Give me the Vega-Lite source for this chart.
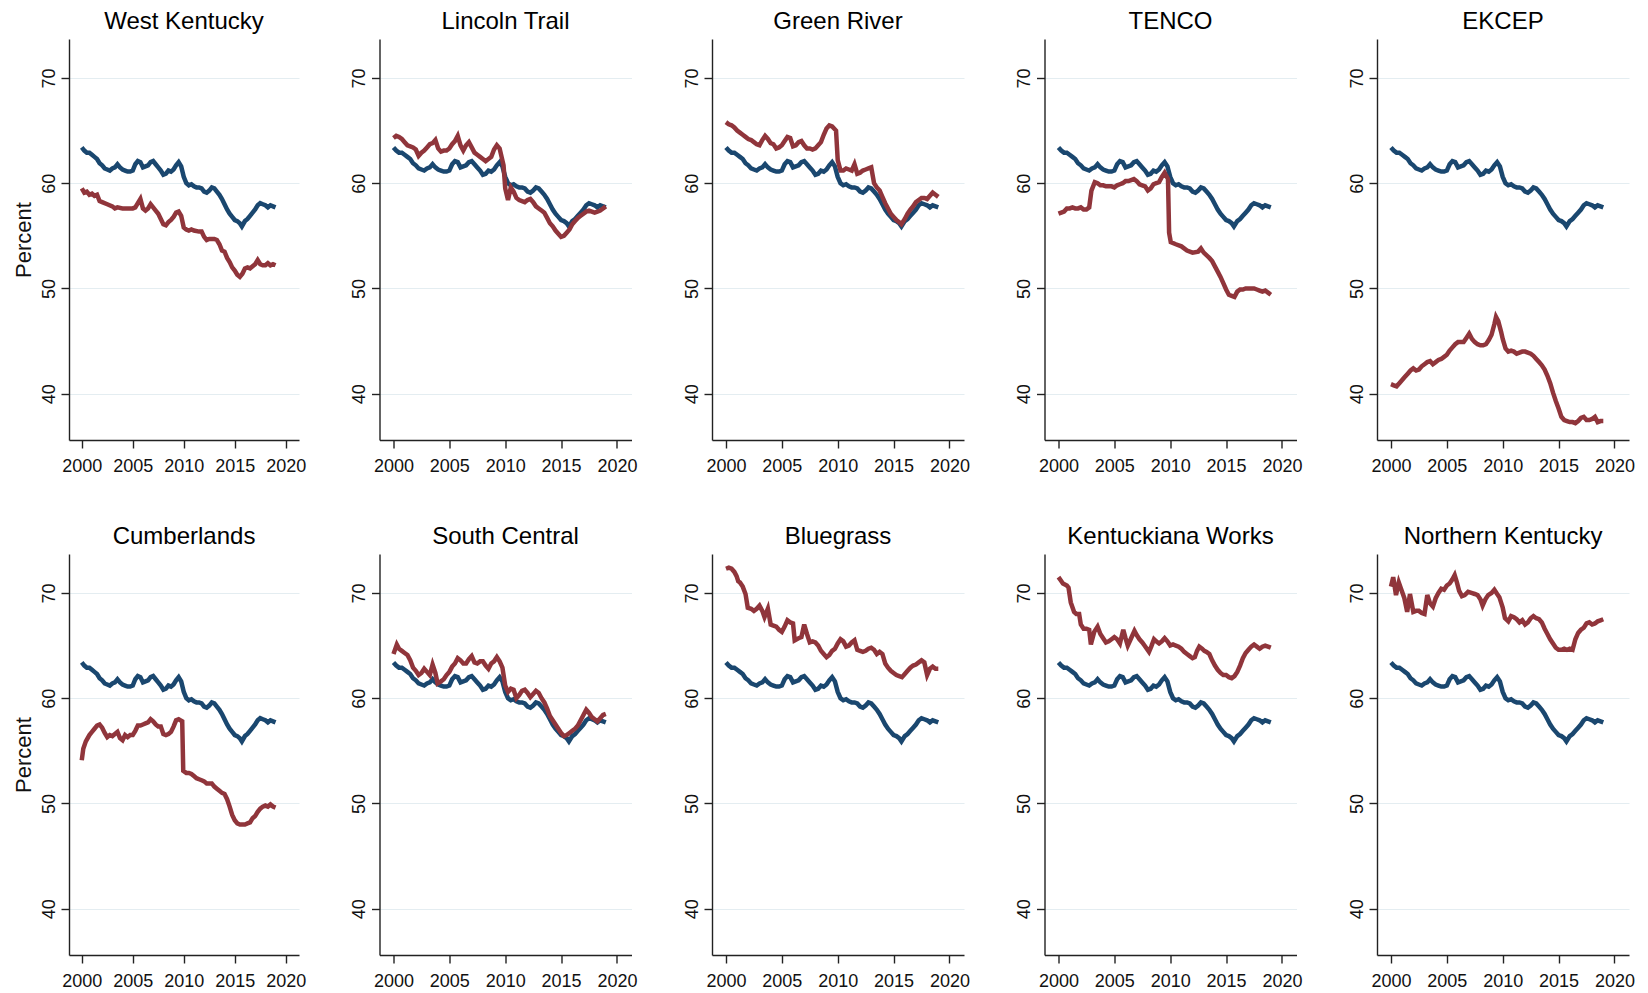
{
  "$schema": "https://vega.github.io/schema/vega-lite/v6.json",
  "padding": {"left": 12, "top": 10, "right": 5, "bottom": 0},
  "background": "#ffffff",
  "datasets": {
    "state": [
      {"year":2000.0,"value":63.4},{"year":2000.25,"value":63.1},{"year":2000.5,"value":62.9},{"year":2000.75,"value":62.9},
      {"year":2001.0,"value":62.7},{"year":2001.25,"value":62.5},{"year":2001.5,"value":62.3},{"year":2001.75,"value":61.9},
      {"year":2002.0,"value":61.7},{"year":2002.25,"value":61.4},{"year":2002.5,"value":61.3},{"year":2002.75,"value":61.2},
      {"year":2003.0,"value":61.4},{"year":2003.25,"value":61.5},{"year":2003.5,"value":61.8},{"year":2003.75,"value":61.5},
      {"year":2004.0,"value":61.3},{"year":2004.25,"value":61.2},{"year":2004.5,"value":61.1},{"year":2004.75,"value":61.1},
      {"year":2005.0,"value":61.2},{"year":2005.25,"value":61.8},{"year":2005.5,"value":62.1},{"year":2005.75,"value":62.0},
      {"year":2006.0,"value":61.5},{"year":2006.25,"value":61.6},{"year":2006.5,"value":61.7},{"year":2006.75,"value":62.0},
      {"year":2007.0,"value":62.1},{"year":2007.25,"value":61.8},{"year":2007.5,"value":61.5},{"year":2007.75,"value":61.2},
      {"year":2008.0,"value":60.8},{"year":2008.25,"value":60.9},{"year":2008.5,"value":61.2},{"year":2008.75,"value":61.1},
      {"year":2009.0,"value":61.3},{"year":2009.25,"value":61.7},{"year":2009.5,"value":62.0},{"year":2009.75,"value":61.6},
      {"year":2010.0,"value":60.6},{"year":2010.25,"value":60.0},{"year":2010.5,"value":59.8},{"year":2010.75,"value":59.9},
      {"year":2011.0,"value":59.7},{"year":2011.25,"value":59.6},{"year":2011.5,"value":59.6},{"year":2011.75,"value":59.5},
      {"year":2012.0,"value":59.2},{"year":2012.25,"value":59.1},{"year":2012.5,"value":59.3},{"year":2012.75,"value":59.6},
      {"year":2013.0,"value":59.5},{"year":2013.25,"value":59.2},{"year":2013.5,"value":58.9},{"year":2013.75,"value":58.5},
      {"year":2014.0,"value":58.0},{"year":2014.25,"value":57.5},{"year":2014.5,"value":57.1},{"year":2014.75,"value":56.8},
      {"year":2015.0,"value":56.5},{"year":2015.25,"value":56.4},{"year":2015.5,"value":56.2},{"year":2015.7,"value":55.9},
      {"year":2016.0,"value":56.4},{"year":2016.25,"value":56.6},{"year":2016.5,"value":56.9},{"year":2016.75,"value":57.2},
      {"year":2017.0,"value":57.5},{"year":2017.25,"value":57.9},{"year":2017.5,"value":58.1},{"year":2017.75,"value":58.0},
      {"year":2018.0,"value":57.9},{"year":2018.25,"value":57.7},{"year":2018.5,"value":57.9},{"year":2018.75,"value":57.8},
      {"year":2019.0,"value":57.7}
    ],
    "regions": [
      {"region":"West Kentucky","year":2000.0,"value":59.5},{"region":"West Kentucky","year":2000.25,"value":59.1},{"region":"West Kentucky","year":2000.5,"value":59.2},{"region":"West Kentucky","year":2000.75,"value":58.9},
      {"region":"West Kentucky","year":2001.0,"value":59.0},{"region":"West Kentucky","year":2001.25,"value":58.8},{"region":"West Kentucky","year":2001.5,"value":58.9},{"region":"West Kentucky","year":2001.75,"value":58.3},
      {"region":"West Kentucky","year":2002.0,"value":58.2},{"region":"West Kentucky","year":2002.5,"value":58.0},{"region":"West Kentucky","year":2003.0,"value":57.8},{"region":"West Kentucky","year":2003.25,"value":57.6},
      {"region":"West Kentucky","year":2003.5,"value":57.7},{"region":"West Kentucky","year":2004.0,"value":57.6},{"region":"West Kentucky","year":2004.5,"value":57.6},{"region":"West Kentucky","year":2005.0,"value":57.6},
      {"region":"West Kentucky","year":2005.25,"value":57.7},{"region":"West Kentucky","year":2005.5,"value":58.1},{"region":"West Kentucky","year":2005.75,"value":58.5},{"region":"West Kentucky","year":2006.0,"value":57.6},
      {"region":"West Kentucky","year":2006.25,"value":57.4},{"region":"West Kentucky","year":2006.5,"value":57.6},{"region":"West Kentucky","year":2006.75,"value":58.0},{"region":"West Kentucky","year":2007.0,"value":57.7},
      {"region":"West Kentucky","year":2007.25,"value":57.4},{"region":"West Kentucky","year":2007.5,"value":57.1},{"region":"West Kentucky","year":2007.75,"value":56.6},{"region":"West Kentucky","year":2008.0,"value":56.1},
      {"region":"West Kentucky","year":2008.25,"value":56.0},{"region":"West Kentucky","year":2008.5,"value":56.3},{"region":"West Kentucky","year":2008.75,"value":56.5},{"region":"West Kentucky","year":2009.0,"value":56.8},
      {"region":"West Kentucky","year":2009.25,"value":57.2},{"region":"West Kentucky","year":2009.5,"value":57.3},{"region":"West Kentucky","year":2009.75,"value":56.9},{"region":"West Kentucky","year":2010.0,"value":55.8},
      {"region":"West Kentucky","year":2010.25,"value":55.6},{"region":"West Kentucky","year":2010.5,"value":55.5},{"region":"West Kentucky","year":2010.75,"value":55.6},{"region":"West Kentucky","year":2011.0,"value":55.5},
      {"region":"West Kentucky","year":2011.5,"value":55.4},{"region":"West Kentucky","year":2011.75,"value":55.4},{"region":"West Kentucky","year":2012.0,"value":54.9},{"region":"West Kentucky","year":2012.25,"value":54.6},
      {"region":"West Kentucky","year":2012.5,"value":54.7},{"region":"West Kentucky","year":2012.75,"value":54.7},{"region":"West Kentucky","year":2013.0,"value":54.7},{"region":"West Kentucky","year":2013.25,"value":54.6},
      {"region":"West Kentucky","year":2013.5,"value":54.2},{"region":"West Kentucky","year":2013.75,"value":53.6},{"region":"West Kentucky","year":2014.0,"value":53.5},{"region":"West Kentucky","year":2014.25,"value":52.9},
      {"region":"West Kentucky","year":2014.5,"value":52.5},{"region":"West Kentucky","year":2014.75,"value":52.0},{"region":"West Kentucky","year":2015.0,"value":51.7},{"region":"West Kentucky","year":2015.25,"value":51.3},
      {"region":"West Kentucky","year":2015.5,"value":51.1},{"region":"West Kentucky","year":2015.75,"value":51.4},{"region":"West Kentucky","year":2016.0,"value":51.9},{"region":"West Kentucky","year":2016.25,"value":52.0},
      {"region":"West Kentucky","year":2016.5,"value":51.9},{"region":"West Kentucky","year":2016.75,"value":52.1},{"region":"West Kentucky","year":2017.0,"value":52.3},{"region":"West Kentucky","year":2017.25,"value":52.7},
      {"region":"West Kentucky","year":2017.5,"value":52.3},{"region":"West Kentucky","year":2017.75,"value":52.2},{"region":"West Kentucky","year":2018.0,"value":52.2},{"region":"West Kentucky","year":2018.25,"value":52.4},
      {"region":"West Kentucky","year":2018.5,"value":52.2},{"region":"West Kentucky","year":2018.75,"value":52.3},{"region":"West Kentucky","year":2019.0,"value":52.2},

      {"region":"Lincoln Trail","year":2000.0,"value":64.3},{"region":"Lincoln Trail","year":2000.25,"value":64.5},{"region":"Lincoln Trail","year":2000.5,"value":64.4},{"region":"Lincoln Trail","year":2000.75,"value":64.2},
      {"region":"Lincoln Trail","year":2001.0,"value":63.9},{"region":"Lincoln Trail","year":2001.25,"value":63.6},{"region":"Lincoln Trail","year":2001.5,"value":63.5},{"region":"Lincoln Trail","year":2001.75,"value":63.4},
      {"region":"Lincoln Trail","year":2002.0,"value":63.2},{"region":"Lincoln Trail","year":2002.25,"value":62.6},{"region":"Lincoln Trail","year":2002.5,"value":62.9},{"region":"Lincoln Trail","year":2002.75,"value":63.1},
      {"region":"Lincoln Trail","year":2003.0,"value":63.4},{"region":"Lincoln Trail","year":2003.25,"value":63.7},{"region":"Lincoln Trail","year":2003.5,"value":63.8},{"region":"Lincoln Trail","year":2003.75,"value":64.1},
      {"region":"Lincoln Trail","year":2004.0,"value":63.3},{"region":"Lincoln Trail","year":2004.25,"value":63.0},{"region":"Lincoln Trail","year":2004.5,"value":63.1},{"region":"Lincoln Trail","year":2004.75,"value":63.1},
      {"region":"Lincoln Trail","year":2005.0,"value":63.3},{"region":"Lincoln Trail","year":2005.25,"value":63.7},{"region":"Lincoln Trail","year":2005.5,"value":64.0},{"region":"Lincoln Trail","year":2005.75,"value":64.5},
      {"region":"Lincoln Trail","year":2006.0,"value":63.6},{"region":"Lincoln Trail","year":2006.25,"value":63.1},{"region":"Lincoln Trail","year":2006.5,"value":63.6},{"region":"Lincoln Trail","year":2006.75,"value":63.9},
      {"region":"Lincoln Trail","year":2007.0,"value":63.4},{"region":"Lincoln Trail","year":2007.25,"value":62.9},{"region":"Lincoln Trail","year":2007.5,"value":62.7},{"region":"Lincoln Trail","year":2007.75,"value":62.5},
      {"region":"Lincoln Trail","year":2008.0,"value":62.3},{"region":"Lincoln Trail","year":2008.25,"value":62.1},{"region":"Lincoln Trail","year":2008.5,"value":62.3},{"region":"Lincoln Trail","year":2008.75,"value":62.5},
      {"region":"Lincoln Trail","year":2009.0,"value":63.2},{"region":"Lincoln Trail","year":2009.25,"value":63.6},{"region":"Lincoln Trail","year":2009.5,"value":63.3},{"region":"Lincoln Trail","year":2009.85,"value":61.7},
      {"region":"Lincoln Trail","year":2010.0,"value":59.5},{"region":"Lincoln Trail","year":2010.25,"value":58.4},{"region":"Lincoln Trail","year":2010.5,"value":59.6},{"region":"Lincoln Trail","year":2010.75,"value":59.2},
      {"region":"Lincoln Trail","year":2011.0,"value":58.6},{"region":"Lincoln Trail","year":2011.25,"value":58.4},{"region":"Lincoln Trail","year":2011.5,"value":58.3},{"region":"Lincoln Trail","year":2011.75,"value":58.2},
      {"region":"Lincoln Trail","year":2012.0,"value":58.4},{"region":"Lincoln Trail","year":2012.25,"value":58.5},{"region":"Lincoln Trail","year":2012.5,"value":58.2},{"region":"Lincoln Trail","year":2012.75,"value":57.8},
      {"region":"Lincoln Trail","year":2013.0,"value":57.6},{"region":"Lincoln Trail","year":2013.25,"value":57.4},{"region":"Lincoln Trail","year":2013.5,"value":57.2},{"region":"Lincoln Trail","year":2013.75,"value":56.7},
      {"region":"Lincoln Trail","year":2014.0,"value":56.2},{"region":"Lincoln Trail","year":2014.25,"value":55.9},{"region":"Lincoln Trail","year":2014.5,"value":55.5},{"region":"Lincoln Trail","year":2014.75,"value":55.2},
      {"region":"Lincoln Trail","year":2015.0,"value":54.9},{"region":"Lincoln Trail","year":2015.25,"value":55.0},{"region":"Lincoln Trail","year":2015.5,"value":55.3},{"region":"Lincoln Trail","year":2015.75,"value":55.6},
      {"region":"Lincoln Trail","year":2016.0,"value":56.1},{"region":"Lincoln Trail","year":2016.25,"value":56.4},{"region":"Lincoln Trail","year":2016.5,"value":56.7},{"region":"Lincoln Trail","year":2016.75,"value":56.9},
      {"region":"Lincoln Trail","year":2017.0,"value":57.1},{"region":"Lincoln Trail","year":2017.25,"value":57.3},{"region":"Lincoln Trail","year":2017.5,"value":57.4},{"region":"Lincoln Trail","year":2017.75,"value":57.3},
      {"region":"Lincoln Trail","year":2018.0,"value":57.2},{"region":"Lincoln Trail","year":2018.25,"value":57.3},{"region":"Lincoln Trail","year":2018.5,"value":57.4},{"region":"Lincoln Trail","year":2018.75,"value":57.6},
      {"region":"Lincoln Trail","year":2019.0,"value":57.8},

      {"region":"Green River","year":2000.0,"value":65.8},{"region":"Green River","year":2000.25,"value":65.6},{"region":"Green River","year":2000.5,"value":65.5},{"region":"Green River","year":2000.75,"value":65.3},
      {"region":"Green River","year":2001.0,"value":65.0},{"region":"Green River","year":2001.25,"value":64.8},{"region":"Green River","year":2001.5,"value":64.6},{"region":"Green River","year":2001.75,"value":64.4},
      {"region":"Green River","year":2002.0,"value":64.2},{"region":"Green River","year":2002.25,"value":64.1},{"region":"Green River","year":2002.5,"value":63.9},{"region":"Green River","year":2002.75,"value":63.7},
      {"region":"Green River","year":2003.0,"value":63.6},{"region":"Green River","year":2003.25,"value":64.1},{"region":"Green River","year":2003.5,"value":64.5},{"region":"Green River","year":2003.75,"value":64.2},
      {"region":"Green River","year":2004.0,"value":63.8},{"region":"Green River","year":2004.25,"value":63.7},{"region":"Green River","year":2004.5,"value":63.3},{"region":"Green River","year":2004.75,"value":63.4},
      {"region":"Green River","year":2005.0,"value":63.6},{"region":"Green River","year":2005.25,"value":64.0},{"region":"Green River","year":2005.5,"value":64.4},{"region":"Green River","year":2005.75,"value":64.3},
      {"region":"Green River","year":2006.0,"value":63.5},{"region":"Green River","year":2006.25,"value":63.6},{"region":"Green River","year":2006.5,"value":63.9},{"region":"Green River","year":2006.75,"value":64.0},
      {"region":"Green River","year":2007.0,"value":63.6},{"region":"Green River","year":2007.25,"value":63.3},{"region":"Green River","year":2007.5,"value":63.3},{"region":"Green River","year":2007.75,"value":63.2},
      {"region":"Green River","year":2008.0,"value":63.3},{"region":"Green River","year":2008.25,"value":63.6},{"region":"Green River","year":2008.5,"value":63.9},{"region":"Green River","year":2008.75,"value":64.6},
      {"region":"Green River","year":2009.0,"value":65.2},{"region":"Green River","year":2009.25,"value":65.5},{"region":"Green River","year":2009.5,"value":65.4},{"region":"Green River","year":2009.85,"value":65.0},
      {"region":"Green River","year":2010.0,"value":62.2},{"region":"Green River","year":2010.25,"value":61.2},{"region":"Green River","year":2010.5,"value":61.2},{"region":"Green River","year":2010.75,"value":61.4},
      {"region":"Green River","year":2011.0,"value":61.3},{"region":"Green River","year":2011.25,"value":61.2},{"region":"Green River","year":2011.5,"value":61.8},{"region":"Green River","year":2011.75,"value":60.9},
      {"region":"Green River","year":2012.0,"value":61.0},{"region":"Green River","year":2012.25,"value":61.2},{"region":"Green River","year":2012.5,"value":61.3},{"region":"Green River","year":2012.75,"value":61.4},
      {"region":"Green River","year":2013.0,"value":61.5},{"region":"Green River","year":2013.25,"value":60.0},{"region":"Green River","year":2013.5,"value":59.6},{"region":"Green River","year":2013.75,"value":59.3},
      {"region":"Green River","year":2014.0,"value":58.7},{"region":"Green River","year":2014.25,"value":58.1},{"region":"Green River","year":2014.5,"value":57.6},{"region":"Green River","year":2014.75,"value":57.1},
      {"region":"Green River","year":2015.0,"value":56.8},{"region":"Green River","year":2015.25,"value":56.5},{"region":"Green River","year":2015.5,"value":56.3},{"region":"Green River","year":2015.7,"value":56.1},
      {"region":"Green River","year":2016.0,"value":56.6},{"region":"Green River","year":2016.25,"value":57.1},{"region":"Green River","year":2016.5,"value":57.5},{"region":"Green River","year":2016.75,"value":57.8},
      {"region":"Green River","year":2017.0,"value":58.2},{"region":"Green River","year":2017.25,"value":58.4},{"region":"Green River","year":2017.5,"value":58.6},{"region":"Green River","year":2017.75,"value":58.6},
      {"region":"Green River","year":2018.0,"value":58.5},{"region":"Green River","year":2018.25,"value":58.8},{"region":"Green River","year":2018.5,"value":59.1},{"region":"Green River","year":2018.75,"value":58.9},
      {"region":"Green River","year":2019.0,"value":58.7},

      {"region":"TENCO","year":2000.0,"value":57.1},{"region":"TENCO","year":2000.25,"value":57.2},{"region":"TENCO","year":2000.5,"value":57.3},{"region":"TENCO","year":2000.75,"value":57.6},
      {"region":"TENCO","year":2001.0,"value":57.6},{"region":"TENCO","year":2001.25,"value":57.7},{"region":"TENCO","year":2001.5,"value":57.6},{"region":"TENCO","year":2001.75,"value":57.6},
      {"region":"TENCO","year":2002.0,"value":57.7},{"region":"TENCO","year":2002.25,"value":57.5},{"region":"TENCO","year":2002.5,"value":57.5},{"region":"TENCO","year":2002.75,"value":57.7},
      {"region":"TENCO","year":2002.95,"value":59.3},{"region":"TENCO","year":2003.25,"value":60.1},{"region":"TENCO","year":2003.5,"value":60.0},{"region":"TENCO","year":2003.75,"value":59.8},
      {"region":"TENCO","year":2004.0,"value":59.8},{"region":"TENCO","year":2004.25,"value":59.7},{"region":"TENCO","year":2004.5,"value":59.7},{"region":"TENCO","year":2004.75,"value":59.7},
      {"region":"TENCO","year":2005.0,"value":59.6},{"region":"TENCO","year":2005.25,"value":59.8},{"region":"TENCO","year":2005.5,"value":59.9},{"region":"TENCO","year":2005.75,"value":60.0},
      {"region":"TENCO","year":2006.0,"value":60.2},{"region":"TENCO","year":2006.25,"value":60.2},{"region":"TENCO","year":2006.5,"value":60.3},{"region":"TENCO","year":2006.75,"value":60.4},
      {"region":"TENCO","year":2007.0,"value":60.2},{"region":"TENCO","year":2007.25,"value":59.9},{"region":"TENCO","year":2007.5,"value":59.8},{"region":"TENCO","year":2007.75,"value":59.7},
      {"region":"TENCO","year":2008.0,"value":59.3},{"region":"TENCO","year":2008.25,"value":59.5},{"region":"TENCO","year":2008.5,"value":59.9},{"region":"TENCO","year":2008.75,"value":60.0},
      {"region":"TENCO","year":2009.0,"value":60.1},{"region":"TENCO","year":2009.25,"value":60.6},{"region":"TENCO","year":2009.5,"value":61.0},{"region":"TENCO","year":2009.8,"value":60.4},
      {"region":"TENCO","year":2009.9,"value":55.3},{"region":"TENCO","year":2010.05,"value":54.4},{"region":"TENCO","year":2010.5,"value":54.2},{"region":"TENCO","year":2011.0,"value":54.0},
      {"region":"TENCO","year":2011.5,"value":53.6},{"region":"TENCO","year":2012.0,"value":53.4},{"region":"TENCO","year":2012.5,"value":53.5},{"region":"TENCO","year":2012.75,"value":53.8},
      {"region":"TENCO","year":2013.0,"value":53.4},{"region":"TENCO","year":2013.5,"value":52.9},{"region":"TENCO","year":2013.75,"value":52.6},{"region":"TENCO","year":2014.0,"value":52.1},
      {"region":"TENCO","year":2014.25,"value":51.6},{"region":"TENCO","year":2014.5,"value":51.1},{"region":"TENCO","year":2014.75,"value":50.5},{"region":"TENCO","year":2015.0,"value":49.9},
      {"region":"TENCO","year":2015.25,"value":49.4},{"region":"TENCO","year":2015.5,"value":49.3},{"region":"TENCO","year":2015.75,"value":49.2},{"region":"TENCO","year":2016.0,"value":49.7},
      {"region":"TENCO","year":2016.25,"value":49.9},{"region":"TENCO","year":2016.5,"value":49.9},{"region":"TENCO","year":2016.75,"value":50.0},{"region":"TENCO","year":2017.0,"value":50.0},
      {"region":"TENCO","year":2017.5,"value":50.0},{"region":"TENCO","year":2017.75,"value":49.9},{"region":"TENCO","year":2018.0,"value":49.8},{"region":"TENCO","year":2018.25,"value":49.7},
      {"region":"TENCO","year":2018.5,"value":49.8},{"region":"TENCO","year":2018.75,"value":49.6},{"region":"TENCO","year":2019.0,"value":49.4},

      {"region":"EKCEP","year":2000.0,"value":40.9},{"region":"EKCEP","year":2000.25,"value":40.8},{"region":"EKCEP","year":2000.5,"value":40.7},{"region":"EKCEP","year":2000.75,"value":41.0},
      {"region":"EKCEP","year":2001.0,"value":41.3},{"region":"EKCEP","year":2001.25,"value":41.6},{"region":"EKCEP","year":2001.5,"value":41.9},{"region":"EKCEP","year":2001.75,"value":42.2},
      {"region":"EKCEP","year":2002.0,"value":42.4},{"region":"EKCEP","year":2002.25,"value":42.2},{"region":"EKCEP","year":2002.5,"value":42.3},{"region":"EKCEP","year":2002.75,"value":42.6},
      {"region":"EKCEP","year":2003.0,"value":42.8},{"region":"EKCEP","year":2003.25,"value":43.0},{"region":"EKCEP","year":2003.5,"value":43.1},{"region":"EKCEP","year":2003.75,"value":42.8},
      {"region":"EKCEP","year":2004.0,"value":43.0},{"region":"EKCEP","year":2004.25,"value":43.2},{"region":"EKCEP","year":2004.5,"value":43.3},{"region":"EKCEP","year":2004.75,"value":43.5},
      {"region":"EKCEP","year":2005.0,"value":43.7},{"region":"EKCEP","year":2005.25,"value":44.1},{"region":"EKCEP","year":2005.5,"value":44.4},{"region":"EKCEP","year":2005.75,"value":44.7},
      {"region":"EKCEP","year":2006.0,"value":44.9},{"region":"EKCEP","year":2006.25,"value":44.9},{"region":"EKCEP","year":2006.5,"value":44.9},{"region":"EKCEP","year":2006.75,"value":45.3},
      {"region":"EKCEP","year":2007.0,"value":45.7},{"region":"EKCEP","year":2007.25,"value":45.2},{"region":"EKCEP","year":2007.5,"value":44.9},{"region":"EKCEP","year":2007.75,"value":44.7},
      {"region":"EKCEP","year":2008.0,"value":44.6},{"region":"EKCEP","year":2008.25,"value":44.6},{"region":"EKCEP","year":2008.5,"value":44.7},{"region":"EKCEP","year":2008.75,"value":45.1},
      {"region":"EKCEP","year":2009.0,"value":45.6},{"region":"EKCEP","year":2009.25,"value":46.6},{"region":"EKCEP","year":2009.4,"value":47.3},{"region":"EKCEP","year":2009.6,"value":46.9},
      {"region":"EKCEP","year":2009.85,"value":45.9},{"region":"EKCEP","year":2010.0,"value":45.2},{"region":"EKCEP","year":2010.25,"value":44.3},{"region":"EKCEP","year":2010.5,"value":44.0},
      {"region":"EKCEP","year":2010.75,"value":44.1},{"region":"EKCEP","year":2011.0,"value":44.0},{"region":"EKCEP","year":2011.25,"value":43.8},{"region":"EKCEP","year":2011.5,"value":43.9},
      {"region":"EKCEP","year":2011.75,"value":44.0},{"region":"EKCEP","year":2012.0,"value":44.0},{"region":"EKCEP","year":2012.25,"value":43.9},{"region":"EKCEP","year":2012.5,"value":43.8},
      {"region":"EKCEP","year":2012.75,"value":43.6},{"region":"EKCEP","year":2013.0,"value":43.3},{"region":"EKCEP","year":2013.25,"value":43.0},{"region":"EKCEP","year":2013.5,"value":42.7},
      {"region":"EKCEP","year":2013.75,"value":42.3},{"region":"EKCEP","year":2014.0,"value":41.7},{"region":"EKCEP","year":2014.25,"value":41.0},{"region":"EKCEP","year":2014.5,"value":40.1},
      {"region":"EKCEP","year":2014.75,"value":39.3},{"region":"EKCEP","year":2015.0,"value":38.6},{"region":"EKCEP","year":2015.25,"value":37.8},{"region":"EKCEP","year":2015.5,"value":37.5},
      {"region":"EKCEP","year":2015.75,"value":37.4},{"region":"EKCEP","year":2016.0,"value":37.3},{"region":"EKCEP","year":2016.25,"value":37.3},{"region":"EKCEP","year":2016.5,"value":37.2},
      {"region":"EKCEP","year":2016.75,"value":37.4},{"region":"EKCEP","year":2017.0,"value":37.7},{"region":"EKCEP","year":2017.25,"value":37.8},{"region":"EKCEP","year":2017.5,"value":37.5},
      {"region":"EKCEP","year":2017.75,"value":37.5},{"region":"EKCEP","year":2018.0,"value":37.6},{"region":"EKCEP","year":2018.25,"value":37.8},{"region":"EKCEP","year":2018.5,"value":37.3},
      {"region":"EKCEP","year":2018.75,"value":37.4},{"region":"EKCEP","year":2019.0,"value":37.4},

      {"region":"Cumberlands","year":2000.0,"value":54.1},{"region":"Cumberlands","year":2000.15,"value":55.2},{"region":"Cumberlands","year":2000.4,"value":55.9},{"region":"Cumberlands","year":2000.75,"value":56.5},
      {"region":"Cumberlands","year":2001.0,"value":56.8},{"region":"Cumberlands","year":2001.25,"value":57.1},{"region":"Cumberlands","year":2001.5,"value":57.4},{"region":"Cumberlands","year":2001.75,"value":57.5},
      {"region":"Cumberlands","year":2002.0,"value":57.2},{"region":"Cumberlands","year":2002.25,"value":56.7},{"region":"Cumberlands","year":2002.5,"value":56.3},{"region":"Cumberlands","year":2002.75,"value":56.5},
      {"region":"Cumberlands","year":2003.0,"value":56.4},{"region":"Cumberlands","year":2003.25,"value":56.6},{"region":"Cumberlands","year":2003.5,"value":56.8},{"region":"Cumberlands","year":2003.75,"value":56.2},
      {"region":"Cumberlands","year":2004.0,"value":56.0},{"region":"Cumberlands","year":2004.25,"value":56.5},{"region":"Cumberlands","year":2004.5,"value":56.3},{"region":"Cumberlands","year":2004.75,"value":56.5},
      {"region":"Cumberlands","year":2005.0,"value":56.5},{"region":"Cumberlands","year":2005.25,"value":56.9},{"region":"Cumberlands","year":2005.5,"value":57.4},{"region":"Cumberlands","year":2005.75,"value":57.4},
      {"region":"Cumberlands","year":2006.0,"value":57.5},{"region":"Cumberlands","year":2006.25,"value":57.6},{"region":"Cumberlands","year":2006.5,"value":57.7},{"region":"Cumberlands","year":2006.75,"value":58.0},
      {"region":"Cumberlands","year":2007.0,"value":57.8},{"region":"Cumberlands","year":2007.25,"value":57.5},{"region":"Cumberlands","year":2007.5,"value":57.3},{"region":"Cumberlands","year":2007.75,"value":57.3},
      {"region":"Cumberlands","year":2008.0,"value":56.6},{"region":"Cumberlands","year":2008.25,"value":56.5},{"region":"Cumberlands","year":2008.5,"value":56.6},{"region":"Cumberlands","year":2008.75,"value":56.8},
      {"region":"Cumberlands","year":2009.0,"value":57.3},{"region":"Cumberlands","year":2009.25,"value":57.9},{"region":"Cumberlands","year":2009.5,"value":58.0},{"region":"Cumberlands","year":2009.85,"value":57.8},
      {"region":"Cumberlands","year":2009.95,"value":53.1},{"region":"Cumberlands","year":2010.25,"value":52.9},{"region":"Cumberlands","year":2010.5,"value":52.9},{"region":"Cumberlands","year":2010.75,"value":52.8},
      {"region":"Cumberlands","year":2011.0,"value":52.6},{"region":"Cumberlands","year":2011.25,"value":52.4},{"region":"Cumberlands","year":2011.5,"value":52.3},{"region":"Cumberlands","year":2011.75,"value":52.2},
      {"region":"Cumberlands","year":2012.0,"value":52.1},{"region":"Cumberlands","year":2012.25,"value":51.9},{"region":"Cumberlands","year":2012.5,"value":51.9},{"region":"Cumberlands","year":2012.75,"value":51.9},
      {"region":"Cumberlands","year":2013.0,"value":51.6},{"region":"Cumberlands","year":2013.25,"value":51.4},{"region":"Cumberlands","year":2013.5,"value":51.2},{"region":"Cumberlands","year":2013.75,"value":51.0},
      {"region":"Cumberlands","year":2014.0,"value":50.9},{"region":"Cumberlands","year":2014.25,"value":50.4},{"region":"Cumberlands","year":2014.5,"value":49.7},{"region":"Cumberlands","year":2014.75,"value":48.9},
      {"region":"Cumberlands","year":2015.0,"value":48.4},{"region":"Cumberlands","year":2015.25,"value":48.1},{"region":"Cumberlands","year":2015.5,"value":48.0},{"region":"Cumberlands","year":2015.75,"value":48.0},
      {"region":"Cumberlands","year":2016.0,"value":48.0},{"region":"Cumberlands","year":2016.25,"value":48.1},{"region":"Cumberlands","year":2016.5,"value":48.2},{"region":"Cumberlands","year":2016.75,"value":48.6},
      {"region":"Cumberlands","year":2017.0,"value":48.8},{"region":"Cumberlands","year":2017.25,"value":49.2},{"region":"Cumberlands","year":2017.5,"value":49.5},{"region":"Cumberlands","year":2017.75,"value":49.7},
      {"region":"Cumberlands","year":2018.0,"value":49.8},{"region":"Cumberlands","year":2018.25,"value":49.7},{"region":"Cumberlands","year":2018.5,"value":49.9},{"region":"Cumberlands","year":2018.75,"value":49.7},
      {"region":"Cumberlands","year":2019.0,"value":49.6},

      {"region":"South Central","year":2000.0,"value":64.2},{"region":"South Central","year":2000.3,"value":65.1},{"region":"South Central","year":2000.5,"value":64.7},{"region":"South Central","year":2000.75,"value":64.5},
      {"region":"South Central","year":2001.0,"value":64.3},{"region":"South Central","year":2001.25,"value":64.1},{"region":"South Central","year":2001.5,"value":63.6},{"region":"South Central","year":2001.75,"value":62.9},
      {"region":"South Central","year":2002.0,"value":62.6},{"region":"South Central","year":2002.25,"value":62.2},{"region":"South Central","year":2002.5,"value":62.4},{"region":"South Central","year":2002.75,"value":62.8},
      {"region":"South Central","year":2003.0,"value":62.5},{"region":"South Central","year":2003.25,"value":62.2},{"region":"South Central","year":2003.5,"value":63.2},{"region":"South Central","year":2003.75,"value":62.4},
      {"region":"South Central","year":2003.95,"value":61.4},{"region":"South Central","year":2004.25,"value":61.6},{"region":"South Central","year":2004.5,"value":61.8},{"region":"South Central","year":2004.75,"value":62.2},
      {"region":"South Central","year":2005.0,"value":62.5},{"region":"South Central","year":2005.25,"value":63.0},{"region":"South Central","year":2005.5,"value":63.3},{"region":"South Central","year":2005.75,"value":63.8},
      {"region":"South Central","year":2006.0,"value":63.6},{"region":"South Central","year":2006.25,"value":63.3},{"region":"South Central","year":2006.5,"value":63.3},{"region":"South Central","year":2006.75,"value":63.7},
      {"region":"South Central","year":2007.0,"value":64.0},{"region":"South Central","year":2007.25,"value":63.4},{"region":"South Central","year":2007.5,"value":63.3},{"region":"South Central","year":2007.75,"value":63.5},
      {"region":"South Central","year":2008.0,"value":63.5},{"region":"South Central","year":2008.25,"value":63.1},{"region":"South Central","year":2008.5,"value":62.8},{"region":"South Central","year":2008.75,"value":63.3},
      {"region":"South Central","year":2009.0,"value":63.5},{"region":"South Central","year":2009.25,"value":63.9},{"region":"South Central","year":2009.5,"value":63.5},{"region":"South Central","year":2009.75,"value":62.9},
      {"region":"South Central","year":2010.0,"value":61.2},{"region":"South Central","year":2010.25,"value":60.6},{"region":"South Central","year":2010.5,"value":60.9},{"region":"South Central","year":2010.75,"value":60.8},
      {"region":"South Central","year":2011.0,"value":60.0},{"region":"South Central","year":2011.25,"value":60.3},{"region":"South Central","year":2011.5,"value":60.7},{"region":"South Central","year":2011.75,"value":60.8},
      {"region":"South Central","year":2012.0,"value":60.5},{"region":"South Central","year":2012.25,"value":60.1},{"region":"South Central","year":2012.5,"value":60.4},{"region":"South Central","year":2012.75,"value":60.7},
      {"region":"South Central","year":2013.0,"value":60.5},{"region":"South Central","year":2013.25,"value":60.0},{"region":"South Central","year":2013.5,"value":59.6},{"region":"South Central","year":2013.75,"value":59.0},
      {"region":"South Central","year":2014.0,"value":58.3},{"region":"South Central","year":2014.25,"value":57.9},{"region":"South Central","year":2014.5,"value":57.5},{"region":"South Central","year":2014.75,"value":57.1},
      {"region":"South Central","year":2015.0,"value":56.7},{"region":"South Central","year":2015.25,"value":56.4},{"region":"South Central","year":2015.5,"value":56.5},{"region":"South Central","year":2015.75,"value":56.7},
      {"region":"South Central","year":2016.0,"value":56.9},{"region":"South Central","year":2016.25,"value":57.1},{"region":"South Central","year":2016.5,"value":57.4},{"region":"South Central","year":2016.75,"value":57.9},
      {"region":"South Central","year":2017.0,"value":58.4},{"region":"South Central","year":2017.25,"value":58.9},{"region":"South Central","year":2017.5,"value":58.6},{"region":"South Central","year":2017.75,"value":58.2},
      {"region":"South Central","year":2018.0,"value":58.0},{"region":"South Central","year":2018.25,"value":57.8},{"region":"South Central","year":2018.5,"value":58.1},{"region":"South Central","year":2018.75,"value":58.4},
      {"region":"South Central","year":2019.0,"value":58.5},

      {"region":"Bluegrass","year":2000.0,"value":72.3},{"region":"Bluegrass","year":2000.25,"value":72.4},{"region":"Bluegrass","year":2000.5,"value":72.3},{"region":"Bluegrass","year":2000.75,"value":72.0},
      {"region":"Bluegrass","year":2000.95,"value":71.6},{"region":"Bluegrass","year":2001.1,"value":71.1},{"region":"Bluegrass","year":2001.25,"value":71.0},{"region":"Bluegrass","year":2001.5,"value":70.6},
      {"region":"Bluegrass","year":2001.75,"value":69.9},{"region":"Bluegrass","year":2001.95,"value":68.6},{"region":"Bluegrass","year":2002.25,"value":68.5},{"region":"Bluegrass","year":2002.5,"value":68.3},
      {"region":"Bluegrass","year":2002.75,"value":68.5},{"region":"Bluegrass","year":2003.0,"value":68.8},{"region":"Bluegrass","year":2003.25,"value":68.3},{"region":"Bluegrass","year":2003.45,"value":67.7},
      {"region":"Bluegrass","year":2003.75,"value":68.5},{"region":"Bluegrass","year":2004.0,"value":67.0},{"region":"Bluegrass","year":2004.25,"value":66.9},{"region":"Bluegrass","year":2004.5,"value":66.8},
      {"region":"Bluegrass","year":2004.75,"value":66.5},{"region":"Bluegrass","year":2005.0,"value":66.3},{"region":"Bluegrass","year":2005.25,"value":66.8},{"region":"Bluegrass","year":2005.5,"value":67.4},
      {"region":"Bluegrass","year":2005.75,"value":67.2},{"region":"Bluegrass","year":2006.0,"value":67.1},{"region":"Bluegrass","year":2006.15,"value":65.5},{"region":"Bluegrass","year":2006.5,"value":65.7},
      {"region":"Bluegrass","year":2006.75,"value":65.8},{"region":"Bluegrass","year":2007.0,"value":67.0},{"region":"Bluegrass","year":2007.25,"value":66.1},{"region":"Bluegrass","year":2007.5,"value":65.3},
      {"region":"Bluegrass","year":2007.75,"value":65.4},{"region":"Bluegrass","year":2008.0,"value":65.3},{"region":"Bluegrass","year":2008.25,"value":65.0},{"region":"Bluegrass","year":2008.5,"value":64.5},
      {"region":"Bluegrass","year":2008.75,"value":64.2},{"region":"Bluegrass","year":2009.0,"value":63.9},{"region":"Bluegrass","year":2009.25,"value":64.1},{"region":"Bluegrass","year":2009.5,"value":64.5},
      {"region":"Bluegrass","year":2009.75,"value":64.7},{"region":"Bluegrass","year":2010.0,"value":65.2},{"region":"Bluegrass","year":2010.25,"value":65.6},{"region":"Bluegrass","year":2010.5,"value":65.4},
      {"region":"Bluegrass","year":2010.75,"value":64.9},{"region":"Bluegrass","year":2011.0,"value":65.0},{"region":"Bluegrass","year":2011.25,"value":65.3},{"region":"Bluegrass","year":2011.5,"value":65.5},
      {"region":"Bluegrass","year":2011.75,"value":64.6},{"region":"Bluegrass","year":2012.0,"value":64.5},{"region":"Bluegrass","year":2012.25,"value":64.4},{"region":"Bluegrass","year":2012.5,"value":64.5},
      {"region":"Bluegrass","year":2012.75,"value":64.7},{"region":"Bluegrass","year":2013.0,"value":64.8},{"region":"Bluegrass","year":2013.25,"value":64.6},{"region":"Bluegrass","year":2013.5,"value":64.2},
      {"region":"Bluegrass","year":2013.75,"value":64.4},{"region":"Bluegrass","year":2014.0,"value":64.2},{"region":"Bluegrass","year":2014.25,"value":63.3},{"region":"Bluegrass","year":2014.5,"value":62.9},
      {"region":"Bluegrass","year":2014.75,"value":62.6},{"region":"Bluegrass","year":2015.0,"value":62.4},{"region":"Bluegrass","year":2015.25,"value":62.2},{"region":"Bluegrass","year":2015.5,"value":62.1},
      {"region":"Bluegrass","year":2015.75,"value":62.0},{"region":"Bluegrass","year":2016.0,"value":62.3},{"region":"Bluegrass","year":2016.25,"value":62.6},{"region":"Bluegrass","year":2016.5,"value":62.9},
      {"region":"Bluegrass","year":2016.75,"value":63.1},{"region":"Bluegrass","year":2017.0,"value":63.2},{"region":"Bluegrass","year":2017.25,"value":63.4},{"region":"Bluegrass","year":2017.5,"value":63.6},
      {"region":"Bluegrass","year":2017.75,"value":63.4},{"region":"Bluegrass","year":2018.0,"value":62.2},{"region":"Bluegrass","year":2018.25,"value":62.8},{"region":"Bluegrass","year":2018.5,"value":63.0},
      {"region":"Bluegrass","year":2018.75,"value":62.8},{"region":"Bluegrass","year":2019.0,"value":62.8},

      {"region":"Kentuckiana Works","year":2000.0,"value":71.5},{"region":"Kentuckiana Works","year":2000.2,"value":71.2},{"region":"Kentuckiana Works","year":2000.4,"value":70.9},{"region":"Kentuckiana Works","year":2000.75,"value":70.7},
      {"region":"Kentuckiana Works","year":2000.9,"value":70.5},{"region":"Kentuckiana Works","year":2001.1,"value":69.1},{"region":"Kentuckiana Works","year":2001.4,"value":68.2},{"region":"Kentuckiana Works","year":2001.6,"value":68.0},
      {"region":"Kentuckiana Works","year":2001.85,"value":68.0},{"region":"Kentuckiana Works","year":2002.0,"value":67.0},{"region":"Kentuckiana Works","year":2002.25,"value":66.6},{"region":"Kentuckiana Works","year":2002.5,"value":66.6},
      {"region":"Kentuckiana Works","year":2002.75,"value":66.5},{"region":"Kentuckiana Works","year":2002.9,"value":65.1},{"region":"Kentuckiana Works","year":2003.2,"value":66.3},{"region":"Kentuckiana Works","year":2003.5,"value":66.8},
      {"region":"Kentuckiana Works","year":2003.75,"value":66.1},{"region":"Kentuckiana Works","year":2004.0,"value":65.7},{"region":"Kentuckiana Works","year":2004.25,"value":65.3},{"region":"Kentuckiana Works","year":2004.5,"value":65.4},
      {"region":"Kentuckiana Works","year":2004.75,"value":65.6},{"region":"Kentuckiana Works","year":2005.0,"value":65.8},{"region":"Kentuckiana Works","year":2005.25,"value":65.6},{"region":"Kentuckiana Works","year":2005.5,"value":65.2},
      {"region":"Kentuckiana Works","year":2005.8,"value":66.5},{"region":"Kentuckiana Works","year":2006.0,"value":65.7},{"region":"Kentuckiana Works","year":2006.2,"value":65.0},{"region":"Kentuckiana Works","year":2006.5,"value":65.7},
      {"region":"Kentuckiana Works","year":2006.8,"value":66.4},{"region":"Kentuckiana Works","year":2007.0,"value":66.0},{"region":"Kentuckiana Works","year":2007.25,"value":65.6},{"region":"Kentuckiana Works","year":2007.5,"value":65.3},
      {"region":"Kentuckiana Works","year":2007.7,"value":65.0},{"region":"Kentuckiana Works","year":2008.1,"value":64.4},{"region":"Kentuckiana Works","year":2008.3,"value":64.9},{"region":"Kentuckiana Works","year":2008.55,"value":65.6},
      {"region":"Kentuckiana Works","year":2008.75,"value":65.4},{"region":"Kentuckiana Works","year":2009.0,"value":65.2},{"region":"Kentuckiana Works","year":2009.25,"value":65.4},{"region":"Kentuckiana Works","year":2009.5,"value":65.7},
      {"region":"Kentuckiana Works","year":2009.75,"value":65.4},{"region":"Kentuckiana Works","year":2010.0,"value":65.0},{"region":"Kentuckiana Works","year":2010.25,"value":65.1},{"region":"Kentuckiana Works","year":2010.5,"value":65.0},
      {"region":"Kentuckiana Works","year":2010.75,"value":64.9},{"region":"Kentuckiana Works","year":2011.0,"value":64.7},{"region":"Kentuckiana Works","year":2011.25,"value":64.4},{"region":"Kentuckiana Works","year":2011.5,"value":64.2},
      {"region":"Kentuckiana Works","year":2011.75,"value":64.0},{"region":"Kentuckiana Works","year":2012.0,"value":63.8},{"region":"Kentuckiana Works","year":2012.2,"value":63.9},{"region":"Kentuckiana Works","year":2012.4,"value":64.5},
      {"region":"Kentuckiana Works","year":2012.6,"value":64.9},{"region":"Kentuckiana Works","year":2012.85,"value":64.7},{"region":"Kentuckiana Works","year":2013.05,"value":64.5},{"region":"Kentuckiana Works","year":2013.25,"value":64.4},
      {"region":"Kentuckiana Works","year":2013.5,"value":64.2},{"region":"Kentuckiana Works","year":2013.75,"value":63.6},{"region":"Kentuckiana Works","year":2014.0,"value":63.1},{"region":"Kentuckiana Works","year":2014.25,"value":62.7},
      {"region":"Kentuckiana Works","year":2014.5,"value":62.4},{"region":"Kentuckiana Works","year":2014.75,"value":62.2},{"region":"Kentuckiana Works","year":2015.0,"value":62.2},{"region":"Kentuckiana Works","year":2015.25,"value":62.0},
      {"region":"Kentuckiana Works","year":2015.5,"value":61.9},{"region":"Kentuckiana Works","year":2015.75,"value":62.1},{"region":"Kentuckiana Works","year":2016.0,"value":62.5},{"region":"Kentuckiana Works","year":2016.25,"value":63.1},
      {"region":"Kentuckiana Works","year":2016.5,"value":63.8},{"region":"Kentuckiana Works","year":2016.75,"value":64.3},{"region":"Kentuckiana Works","year":2017.0,"value":64.6},{"region":"Kentuckiana Works","year":2017.25,"value":64.9},
      {"region":"Kentuckiana Works","year":2017.5,"value":65.1},{"region":"Kentuckiana Works","year":2017.75,"value":64.9},{"region":"Kentuckiana Works","year":2018.0,"value":64.7},{"region":"Kentuckiana Works","year":2018.25,"value":64.9},
      {"region":"Kentuckiana Works","year":2018.5,"value":65.0},{"region":"Kentuckiana Works","year":2018.75,"value":64.9},{"region":"Kentuckiana Works","year":2019.0,"value":64.8},

      {"region":"Northern Kentucky","year":2000.0,"value":70.6},{"region":"Northern Kentucky","year":2000.2,"value":71.5},{"region":"Northern Kentucky","year":2000.45,"value":69.8},{"region":"Northern Kentucky","year":2000.7,"value":71.0},
      {"region":"Northern Kentucky","year":2000.9,"value":70.4},{"region":"Northern Kentucky","year":2001.2,"value":69.5},{"region":"Northern Kentucky","year":2001.45,"value":68.2},{"region":"Northern Kentucky","year":2001.7,"value":69.9},
      {"region":"Northern Kentucky","year":2002.0,"value":68.2},{"region":"Northern Kentucky","year":2002.25,"value":68.3},{"region":"Northern Kentucky","year":2002.5,"value":68.3},{"region":"Northern Kentucky","year":2002.75,"value":68.1},
      {"region":"Northern Kentucky","year":2003.0,"value":68.0},{"region":"Northern Kentucky","year":2003.25,"value":69.8},{"region":"Northern Kentucky","year":2003.5,"value":69.0},{"region":"Northern Kentucky","year":2003.75,"value":68.7},
      {"region":"Northern Kentucky","year":2004.0,"value":69.5},{"region":"Northern Kentucky","year":2004.25,"value":70.0},{"region":"Northern Kentucky","year":2004.5,"value":70.4},{"region":"Northern Kentucky","year":2004.75,"value":70.3},
      {"region":"Northern Kentucky","year":2005.0,"value":70.7},{"region":"Northern Kentucky","year":2005.25,"value":70.9},{"region":"Northern Kentucky","year":2005.5,"value":71.3},{"region":"Northern Kentucky","year":2005.7,"value":71.7},
      {"region":"Northern Kentucky","year":2005.9,"value":71.0},{"region":"Northern Kentucky","year":2006.1,"value":70.2},{"region":"Northern Kentucky","year":2006.35,"value":69.7},{"region":"Northern Kentucky","year":2006.6,"value":69.8},
      {"region":"Northern Kentucky","year":2006.9,"value":70.1},{"region":"Northern Kentucky","year":2007.2,"value":70.0},{"region":"Northern Kentucky","year":2007.5,"value":69.9},{"region":"Northern Kentucky","year":2007.75,"value":69.8},
      {"region":"Northern Kentucky","year":2008.0,"value":69.4},{"region":"Northern Kentucky","year":2008.2,"value":68.8},{"region":"Northern Kentucky","year":2008.45,"value":69.4},{"region":"Northern Kentucky","year":2008.7,"value":69.8},
      {"region":"Northern Kentucky","year":2009.0,"value":70.0},{"region":"Northern Kentucky","year":2009.25,"value":70.3},{"region":"Northern Kentucky","year":2009.5,"value":69.9},{"region":"Northern Kentucky","year":2009.7,"value":69.6},
      {"region":"Northern Kentucky","year":2010.0,"value":68.6},{"region":"Northern Kentucky","year":2010.2,"value":67.6},{"region":"Northern Kentucky","year":2010.5,"value":67.3},{"region":"Northern Kentucky","year":2010.75,"value":67.8},
      {"region":"Northern Kentucky","year":2011.0,"value":67.7},{"region":"Northern Kentucky","year":2011.25,"value":67.5},{"region":"Northern Kentucky","year":2011.5,"value":67.2},{"region":"Northern Kentucky","year":2011.75,"value":67.4},
      {"region":"Northern Kentucky","year":2012.0,"value":67.0},{"region":"Northern Kentucky","year":2012.25,"value":67.2},{"region":"Northern Kentucky","year":2012.5,"value":67.6},{"region":"Northern Kentucky","year":2012.75,"value":67.8},
      {"region":"Northern Kentucky","year":2013.0,"value":67.6},{"region":"Northern Kentucky","year":2013.25,"value":67.5},{"region":"Northern Kentucky","year":2013.5,"value":67.2},{"region":"Northern Kentucky","year":2013.75,"value":66.6},
      {"region":"Northern Kentucky","year":2014.0,"value":66.1},{"region":"Northern Kentucky","year":2014.25,"value":65.6},{"region":"Northern Kentucky","year":2014.5,"value":65.2},{"region":"Northern Kentucky","year":2014.75,"value":64.8},
      {"region":"Northern Kentucky","year":2015.0,"value":64.6},{"region":"Northern Kentucky","year":2015.25,"value":64.6},{"region":"Northern Kentucky","year":2015.5,"value":64.7},{"region":"Northern Kentucky","year":2015.75,"value":64.6},
      {"region":"Northern Kentucky","year":2016.0,"value":64.7},{"region":"Northern Kentucky","year":2016.25,"value":64.6},{"region":"Northern Kentucky","year":2016.5,"value":65.6},{"region":"Northern Kentucky","year":2016.75,"value":66.2},
      {"region":"Northern Kentucky","year":2017.0,"value":66.5},{"region":"Northern Kentucky","year":2017.25,"value":66.7},{"region":"Northern Kentucky","year":2017.5,"value":67.1},{"region":"Northern Kentucky","year":2017.75,"value":67.2},
      {"region":"Northern Kentucky","year":2018.0,"value":67.0},{"region":"Northern Kentucky","year":2018.25,"value":67.1},{"region":"Northern Kentucky","year":2018.5,"value":67.3},{"region":"Northern Kentucky","year":2018.75,"value":67.4},
      {"region":"Northern Kentucky","year":2019.0,"value":67.5}
    ]
  },
  "columns": 5,
  "align": "each",
  "bounds": "flush",
  "spacing": {"row": 114, "column": 80.5},
  "concat": [
    {"width": 230, "height": 401, "title": "West Kentucky", "layer": [
      {"data": {"name": "state"}, "mark": {"type": "line", "color": "#1a476f", "strokeWidth": 4.5},
       "encoding": {"x": {"field": "year", "type": "quantitative", "scale": {"domain": [1998.75, 2021.3], "nice": false, "zero": false}, "axis": {"values": [2000, 2005, 2010, 2015, 2020], "format": "d", "title": null}},
                    "y": {"field": "value", "type": "quantitative", "scale": {"domain": [35.6, 73.7], "nice": false, "zero": false}, "axis": {"values": [40, 50, 60, 70], "title": "Percent"}}}},
      {"data": {"name": "regions"}, "transform": [{"filter": {"field": "region", "equal": "West Kentucky"}}], "mark": {"type": "line", "color": "#90353b", "strokeWidth": 4.5},
       "encoding": {"x": {"field": "year", "type": "quantitative"}, "y": {"field": "value", "type": "quantitative"}}}
    ]},
    {"width": 252, "height": 401, "title": "Lincoln Trail", "layer": [
      {"data": {"name": "state"}, "mark": {"type": "line", "color": "#1a476f", "strokeWidth": 4.5},
       "encoding": {"x": {"field": "year", "type": "quantitative", "scale": {"domain": [1998.75, 2021.3], "nice": false, "zero": false}, "axis": {"values": [2000, 2005, 2010, 2015, 2020], "format": "d", "title": null}},
                    "y": {"field": "value", "type": "quantitative", "scale": {"domain": [35.6, 73.7], "nice": false, "zero": false}, "axis": {"values": [40, 50, 60, 70], "title": null}}}},
      {"data": {"name": "regions"}, "transform": [{"filter": {"field": "region", "equal": "Lincoln Trail"}}], "mark": {"type": "line", "color": "#90353b", "strokeWidth": 4.5},
       "encoding": {"x": {"field": "year", "type": "quantitative"}, "y": {"field": "value", "type": "quantitative"}}}
    ]},
    {"width": 252, "height": 401, "title": "Green River", "layer": [
      {"data": {"name": "state"}, "mark": {"type": "line", "color": "#1a476f", "strokeWidth": 4.5},
       "encoding": {"x": {"field": "year", "type": "quantitative", "scale": {"domain": [1998.75, 2021.3], "nice": false, "zero": false}, "axis": {"values": [2000, 2005, 2010, 2015, 2020], "format": "d", "title": null}},
                    "y": {"field": "value", "type": "quantitative", "scale": {"domain": [35.6, 73.7], "nice": false, "zero": false}, "axis": {"values": [40, 50, 60, 70], "title": null}}}},
      {"data": {"name": "regions"}, "transform": [{"filter": {"field": "region", "equal": "Green River"}}], "mark": {"type": "line", "color": "#90353b", "strokeWidth": 4.5},
       "encoding": {"x": {"field": "year", "type": "quantitative"}, "y": {"field": "value", "type": "quantitative"}}}
    ]},
    {"width": 252, "height": 401, "title": "TENCO", "layer": [
      {"data": {"name": "state"}, "mark": {"type": "line", "color": "#1a476f", "strokeWidth": 4.5},
       "encoding": {"x": {"field": "year", "type": "quantitative", "scale": {"domain": [1998.75, 2021.3], "nice": false, "zero": false}, "axis": {"values": [2000, 2005, 2010, 2015, 2020], "format": "d", "title": null}},
                    "y": {"field": "value", "type": "quantitative", "scale": {"domain": [35.6, 73.7], "nice": false, "zero": false}, "axis": {"values": [40, 50, 60, 70], "title": null}}}},
      {"data": {"name": "regions"}, "transform": [{"filter": {"field": "region", "equal": "TENCO"}}], "mark": {"type": "line", "color": "#90353b", "strokeWidth": 4.5},
       "encoding": {"x": {"field": "year", "type": "quantitative"}, "y": {"field": "value", "type": "quantitative"}}}
    ]},
    {"width": 252, "height": 401, "title": "EKCEP", "layer": [
      {"data": {"name": "state"}, "mark": {"type": "line", "color": "#1a476f", "strokeWidth": 4.5},
       "encoding": {"x": {"field": "year", "type": "quantitative", "scale": {"domain": [1998.75, 2021.3], "nice": false, "zero": false}, "axis": {"values": [2000, 2005, 2010, 2015, 2020], "format": "d", "title": null}},
                    "y": {"field": "value", "type": "quantitative", "scale": {"domain": [35.6, 73.7], "nice": false, "zero": false}, "axis": {"values": [40, 50, 60, 70], "title": null}}}},
      {"data": {"name": "regions"}, "transform": [{"filter": {"field": "region", "equal": "EKCEP"}}], "mark": {"type": "line", "color": "#90353b", "strokeWidth": 4.5},
       "encoding": {"x": {"field": "year", "type": "quantitative"}, "y": {"field": "value", "type": "quantitative"}}}
    ]},
    {"width": 230, "height": 401, "title": "Cumberlands", "layer": [
      {"data": {"name": "state"}, "mark": {"type": "line", "color": "#1a476f", "strokeWidth": 4.5},
       "encoding": {"x": {"field": "year", "type": "quantitative", "scale": {"domain": [1998.75, 2021.3], "nice": false, "zero": false}, "axis": {"values": [2000, 2005, 2010, 2015, 2020], "format": "d", "title": null}},
                    "y": {"field": "value", "type": "quantitative", "scale": {"domain": [35.6, 73.7], "nice": false, "zero": false}, "axis": {"values": [40, 50, 60, 70], "title": "Percent"}}}},
      {"data": {"name": "regions"}, "transform": [{"filter": {"field": "region", "equal": "Cumberlands"}}], "mark": {"type": "line", "color": "#90353b", "strokeWidth": 4.5},
       "encoding": {"x": {"field": "year", "type": "quantitative"}, "y": {"field": "value", "type": "quantitative"}}}
    ]},
    {"width": 252, "height": 401, "title": "South Central", "layer": [
      {"data": {"name": "state"}, "mark": {"type": "line", "color": "#1a476f", "strokeWidth": 4.5},
       "encoding": {"x": {"field": "year", "type": "quantitative", "scale": {"domain": [1998.75, 2021.3], "nice": false, "zero": false}, "axis": {"values": [2000, 2005, 2010, 2015, 2020], "format": "d", "title": null}},
                    "y": {"field": "value", "type": "quantitative", "scale": {"domain": [35.6, 73.7], "nice": false, "zero": false}, "axis": {"values": [40, 50, 60, 70], "title": null}}}},
      {"data": {"name": "regions"}, "transform": [{"filter": {"field": "region", "equal": "South Central"}}], "mark": {"type": "line", "color": "#90353b", "strokeWidth": 4.5},
       "encoding": {"x": {"field": "year", "type": "quantitative"}, "y": {"field": "value", "type": "quantitative"}}}
    ]},
    {"width": 252, "height": 401, "title": "Bluegrass", "layer": [
      {"data": {"name": "state"}, "mark": {"type": "line", "color": "#1a476f", "strokeWidth": 4.5},
       "encoding": {"x": {"field": "year", "type": "quantitative", "scale": {"domain": [1998.75, 2021.3], "nice": false, "zero": false}, "axis": {"values": [2000, 2005, 2010, 2015, 2020], "format": "d", "title": null}},
                    "y": {"field": "value", "type": "quantitative", "scale": {"domain": [35.6, 73.7], "nice": false, "zero": false}, "axis": {"values": [40, 50, 60, 70], "title": null}}}},
      {"data": {"name": "regions"}, "transform": [{"filter": {"field": "region", "equal": "Bluegrass"}}], "mark": {"type": "line", "color": "#90353b", "strokeWidth": 4.5},
       "encoding": {"x": {"field": "year", "type": "quantitative"}, "y": {"field": "value", "type": "quantitative"}}}
    ]},
    {"width": 252, "height": 401, "title": "Kentuckiana Works", "layer": [
      {"data": {"name": "state"}, "mark": {"type": "line", "color": "#1a476f", "strokeWidth": 4.5},
       "encoding": {"x": {"field": "year", "type": "quantitative", "scale": {"domain": [1998.75, 2021.3], "nice": false, "zero": false}, "axis": {"values": [2000, 2005, 2010, 2015, 2020], "format": "d", "title": null}},
                    "y": {"field": "value", "type": "quantitative", "scale": {"domain": [35.6, 73.7], "nice": false, "zero": false}, "axis": {"values": [40, 50, 60, 70], "title": null}}}},
      {"data": {"name": "regions"}, "transform": [{"filter": {"field": "region", "equal": "Kentuckiana Works"}}], "mark": {"type": "line", "color": "#90353b", "strokeWidth": 4.5},
       "encoding": {"x": {"field": "year", "type": "quantitative"}, "y": {"field": "value", "type": "quantitative"}}}
    ]},
    {"width": 252, "height": 401, "title": "Northern Kentucky", "layer": [
      {"data": {"name": "state"}, "mark": {"type": "line", "color": "#1a476f", "strokeWidth": 4.5},
       "encoding": {"x": {"field": "year", "type": "quantitative", "scale": {"domain": [1998.75, 2021.3], "nice": false, "zero": false}, "axis": {"values": [2000, 2005, 2010, 2015, 2020], "format": "d", "title": null}},
                    "y": {"field": "value", "type": "quantitative", "scale": {"domain": [35.6, 73.7], "nice": false, "zero": false}, "axis": {"values": [40, 50, 60, 70], "title": null}}}},
      {"data": {"name": "regions"}, "transform": [{"filter": {"field": "region", "equal": "Northern Kentucky"}}], "mark": {"type": "line", "color": "#90353b", "strokeWidth": 4.5},
       "encoding": {"x": {"field": "year", "type": "quantitative"}, "y": {"field": "value", "type": "quantitative"}}}
    ]}
  ],
  "config": {
    "view": {"stroke": null},
    "font": "Liberation Sans",
    "title": {"font": "Liberation Sans", "fontSize": 24, "fontWeight": "normal", "color": "#000000", "baseline": "alphabetic", "offset": 5, "frame": "group", "anchor": "middle"},
    "axis": {
      "domainColor": "#222222", "domainWidth": 1.4,
      "tickColor": "#222222", "tickWidth": 1.4, "tickSize": 8,
      "labelFont": "Liberation Sans", "labelFontSize": 18, "labelColor": "#111111", "labelFlush": false, "labelOverlap": false,
      "gridColor": "#e4edf1", "gridWidth": 1.2
    },
    "axisX": {"grid": false, "labelPadding": 9, "labelAngle": 0},
    "axisY": {
      "grid": true, "labelAngle": -90, "labelAlign": "center", "labelBaseline": "alphabetic", "labelPadding": 7,
      "titleFont": "Liberation Sans", "titleFontSize": 22, "titleFontWeight": "normal", "titleColor": "#111111",
      "titleX": -39, "titleAngle": -90, "titleAlign": "center", "titleBaseline": "alphabetic"
    }
  }
}
